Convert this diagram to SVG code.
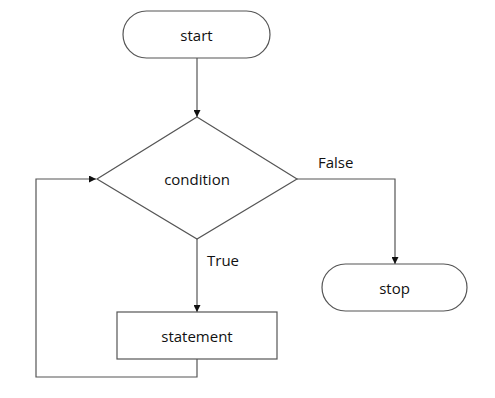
<svg xmlns="http://www.w3.org/2000/svg" width="495" height="398" viewBox="0 0 495 398">
<style>
.shape{fill:#fff;stroke:#555;stroke-width:1.2}
.conn{fill:none;stroke:#555;stroke-width:1.2}
text{font-family:"Open Sans","Liberation Sans",sans-serif;font-size:15px;fill:#111}
.c{text-anchor:middle;dominant-baseline:central}
</style>
<defs>
<marker id="arr" viewBox="0 0 10 10" refX="10" refY="5" markerWidth="7" markerHeight="7" markerUnits="userSpaceOnUse" orient="auto">
<path d="M0,0 L10,5 L0,10 Z" fill="#111"/>
</marker>
</defs>
<rect width="495" height="398" fill="#fff"/>
<g id="connectors">
<path class="conn" d="M197,58 V117" marker-end="url(#arr)"/>
<path class="conn" d="M297,179 H395 V264" marker-end="url(#arr)"/>
<path class="conn" d="M197,239 V312" marker-end="url(#arr)"/>
<path class="conn" d="M197,359 V377 H36 V179 H96" marker-end="url(#arr)"/>
<text x="318" y="168">False</text>
<text x="207" y="266">True</text>
</g>
<g id="start">
<rect class="shape" x="123" y="11" width="147" height="47" rx="23.5" ry="23.5"/>
<text class="c" x="196.5" y="35">start</text>
</g>
<g id="condition">
<polygon class="shape" points="197,117 297,179 197,239 97,179"/>
<text class="c" x="197" y="179">condition</text>
</g>
<g id="stop">
<rect class="shape" x="322" y="264" width="145" height="47" rx="23.5" ry="23.5"/>
<text class="c" x="394.5" y="288">stop</text>
</g>
<g id="statement">
<rect class="shape" x="117" y="312" width="160" height="47"/>
<text class="c" x="197" y="336">statement</text>
</g>
</svg>
